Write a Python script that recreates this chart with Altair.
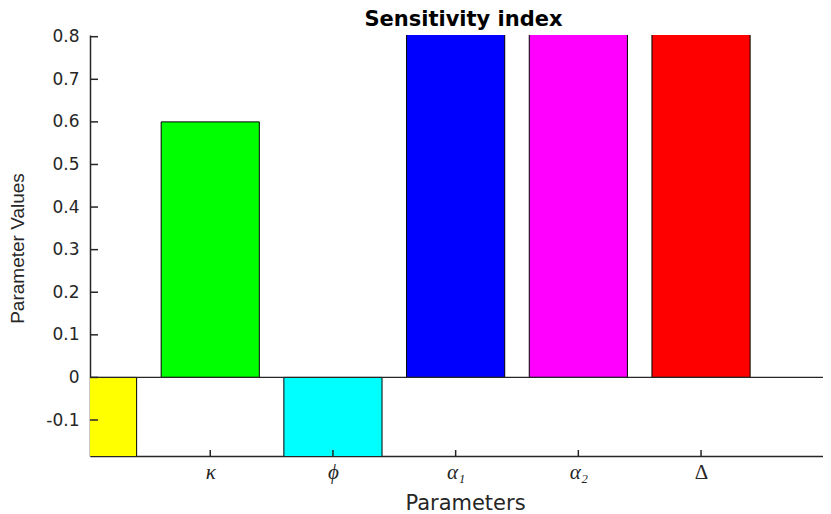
import altair as alt
import pandas as pd

# ---- data ----
categories = ["μ", "κ", "ϕ", "α₁", "α₂", "Δ"]
positions = [1, 2, 3, 4, 5, 6]
values = [-1.0, 0.6, -1.0, 1.0, 1.0, 1.0]
bar_colors = ["#ffff00", "#00ff00", "#00ffff", "#0000ff", "#ff00ff", "#ff0000"]
y_ticks = [-0.1, 0.0, 0.1, 0.2, 0.3, 0.4, 0.5, 0.6, 0.7, 0.8]
x_ticks = [2, 3, 4, 5, 6]
x_domain = [1.02, 6.994]
y_domain = [-0.1845, 0.804]
bar_half_width = 0.4

bars_df = pd.DataFrame({"pos": positions, "val": values, "color": bar_colors, "name": categories})
ytick_df = pd.DataFrame({"t": y_ticks})
xtick_df = pd.DataFrame({"t": x_ticks})
zero_df = pd.DataFrame({"z": [0.0]})

AX = "#262626"
xscale = alt.Scale(domain=x_domain, nice=False, zero=False)
yscale = alt.Scale(domain=y_domain, nice=False, zero=False)

x_label_expr = "[" + ",".join(f"'{c}'" for c in categories) + "][datum.value - 1]"
y_label_expr = ("datum.value < -0.0001 ? '-' + format(-datum.value, '.1f') : "
                "(abs(datum.value) < 0.0001 ? '0' : format(datum.value, '.1f'))")

x_axis = alt.Axis(
    values=x_ticks, labelExpr=x_label_expr, ticks=False, tickSize=0, grid=False,
    domainColor=AX, domainWidth=1.5,
    labelFont="Liberation Serif", labelFontSize=21,
    labelFontStyle={"condition": {"test": "datum.value == 6", "value": "normal"}, "value": "italic"},
    labelColor=AX, labelPadding=22, labelBaseline="alphabetic",
    labelFlush=False, labelOverlap=False,
    title="Parameters", titleFont="DejaVu Sans", titleFontSize=21, titleFontWeight="normal",
    titleColor=AX, titleX=375, titleY=53, titleBaseline="alphabetic",
)
y_axis = alt.Axis(
    values=y_ticks, labelExpr=y_label_expr, ticks=False, tickSize=0, grid=False,
    domainColor=AX, domainWidth=1.5,
    labelFont="DejaVu Sans", labelFontSize=17, labelColor=AX, labelPadding=11,
    labelFlush=False, labelOverlap=False,
    title="Parameter Values", titleFont="Liberation Sans", titleFontSize=19,
    titleFontWeight="normal", titleColor=AX, titleX=-67, titleY=213,
    titleAngle=270, titleAlign="center", titleBaseline="alphabetic",
)

bars = alt.Chart(bars_df).transform_calculate(
    lo=f"datum.pos - {bar_half_width}", hi=f"datum.pos + {bar_half_width}", zero="0"
).mark_rect(clip=True, stroke="black", strokeWidth=1).encode(
    x=alt.X("lo:Q", scale=xscale, axis=x_axis),
    x2="hi:Q",
    y=alt.Y("val:Q", scale=yscale, axis=y_axis),
    y2="zero:Q",
    color=alt.Color("color:N", scale=None),
)

zero_line = alt.Chart(zero_df).mark_rule(color=AX, strokeWidth=1.2).encode(
    y=alt.Y("z:Q", scale=yscale, axis=y_axis)
)

yticks = alt.Chart(ytick_df).mark_rule(color=AX, strokeWidth=1.5).encode(
    y=alt.Y("t:Q", scale=yscale, axis=y_axis),
    x=alt.value(0), x2=alt.value(8),
)
xticks = alt.Chart(xtick_df).mark_rule(color=AX, strokeWidth=1.5).encode(
    x=alt.X("t:Q", scale=xscale, axis=x_axis),
    y=alt.value(415), y2=alt.value(421),
)

chart = alt.layer(bars, zero_line, yticks, xticks).properties(
    width=733, height=421,
    title=alt.TitleParams("Sensitivity index", font="DejaVu Sans", fontSize=21,
                          fontWeight="bold", color="black", anchor="middle",
                          baseline="alphabetic", offset=9, dy=28, dx=7),
    autosize=alt.AutoSizeParams(type="none"),
    padding={"left": 82, "top": 27, "right": 0, "bottom": 57},
    background="white",
).configure_view(stroke=None)

chart.save("out.html", embed_options={"renderer": "svg", "actions": False})
